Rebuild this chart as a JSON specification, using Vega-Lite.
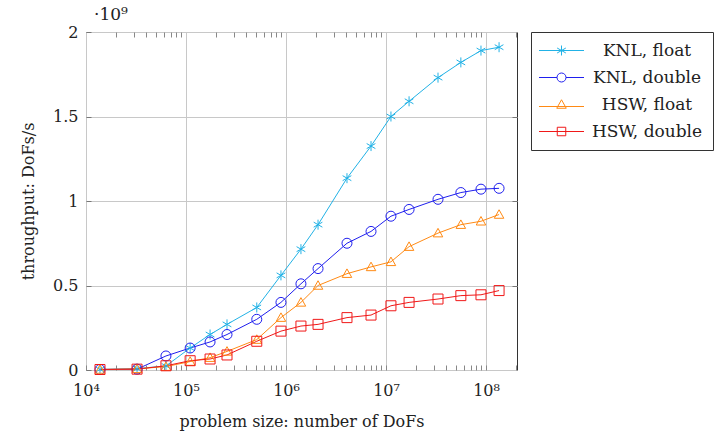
{
  "$schema": "https://vega.github.io/schema/vega-lite/v6.json",
  "autosize": "none",
  "width": 431,
  "height": 338,
  "padding": {"left": 86, "top": 32, "right": 198, "bottom": 67},
  "background": "white",
  "config": {
    "font": "DejaVu Serif",
    "view": {"stroke": "#333333", "strokeWidth": 1},
    "axis": {"labelFont": "DejaVu Serif", "titleFont": "DejaVu Serif", "labelColor": "#222", "titleColor": "#222", "titleFontWeight": "normal", "domain": false}
  },
  "title": {"text": "·10⁹", "anchor": "start", "frame": "group", "fontSize": 17, "fontWeight": "normal", "font": "DejaVu Serif", "color": "#222", "offset": 0, "dx": 8},
  "data": {"values": [
    {"size": 13800, "throughput": 0.003, "series": "KNL, float"},
    {"size": 32400, "throughput": 0.008, "series": "KNL, float"},
    {"size": 63000, "throughput": 0.024, "series": "KNL, float"},
    {"size": 110000, "throughput": 0.13, "series": "KNL, float"},
    {"size": 174000, "throughput": 0.21, "series": "KNL, float"},
    {"size": 257000, "throughput": 0.27, "series": "KNL, float"},
    {"size": 510000, "throughput": 0.37, "series": "KNL, float"},
    {"size": 890000, "throughput": 0.56, "series": "KNL, float"},
    {"size": 1410000, "throughput": 0.715, "series": "KNL, float"},
    {"size": 2090000, "throughput": 0.86, "series": "KNL, float"},
    {"size": 4070000, "throughput": 1.135, "series": "KNL, float"},
    {"size": 7080000, "throughput": 1.325, "series": "KNL, float"},
    {"size": 11200000, "throughput": 1.5, "series": "KNL, float"},
    {"size": 17000000, "throughput": 1.59, "series": "KNL, float"},
    {"size": 33100000, "throughput": 1.73, "series": "KNL, float"},
    {"size": 56000000, "throughput": 1.82, "series": "KNL, float"},
    {"size": 89000000, "throughput": 1.89, "series": "KNL, float"},
    {"size": 135000000, "throughput": 1.91, "series": "KNL, float"},
    {"size": 13800, "throughput": 0.003, "series": "KNL, double"},
    {"size": 32400, "throughput": 0.005, "series": "KNL, double"},
    {"size": 63000, "throughput": 0.083, "series": "KNL, double"},
    {"size": 110000, "throughput": 0.13, "series": "KNL, double"},
    {"size": 174000, "throughput": 0.166, "series": "KNL, double"},
    {"size": 257000, "throughput": 0.21, "series": "KNL, double"},
    {"size": 510000, "throughput": 0.3, "series": "KNL, double"},
    {"size": 890000, "throughput": 0.4, "series": "KNL, double"},
    {"size": 1410000, "throughput": 0.51, "series": "KNL, double"},
    {"size": 2090000, "throughput": 0.6, "series": "KNL, double"},
    {"size": 4070000, "throughput": 0.75, "series": "KNL, double"},
    {"size": 7080000, "throughput": 0.82, "series": "KNL, double"},
    {"size": 11200000, "throughput": 0.91, "series": "KNL, double"},
    {"size": 17000000, "throughput": 0.95, "series": "KNL, double"},
    {"size": 33100000, "throughput": 1.01, "series": "KNL, double"},
    {"size": 56000000, "throughput": 1.05, "series": "KNL, double"},
    {"size": 89000000, "throughput": 1.07, "series": "KNL, double"},
    {"size": 135000000, "throughput": 1.075, "series": "KNL, double"},
    {"size": 13800, "throughput": 0.003, "series": "HSW, float"},
    {"size": 32400, "throughput": 0.007, "series": "HSW, float"},
    {"size": 63000, "throughput": 0.02, "series": "HSW, float"},
    {"size": 110000, "throughput": 0.05, "series": "HSW, float"},
    {"size": 174000, "throughput": 0.073, "series": "HSW, float"},
    {"size": 257000, "throughput": 0.11, "series": "HSW, float"},
    {"size": 510000, "throughput": 0.18, "series": "HSW, float"},
    {"size": 890000, "throughput": 0.31, "series": "HSW, float"},
    {"size": 1410000, "throughput": 0.4, "series": "HSW, float"},
    {"size": 2090000, "throughput": 0.5, "series": "HSW, float"},
    {"size": 4070000, "throughput": 0.57, "series": "HSW, float"},
    {"size": 7080000, "throughput": 0.61, "series": "HSW, float"},
    {"size": 11200000, "throughput": 0.64, "series": "HSW, float"},
    {"size": 17000000, "throughput": 0.73, "series": "HSW, float"},
    {"size": 33100000, "throughput": 0.81, "series": "HSW, float"},
    {"size": 56000000, "throughput": 0.86, "series": "HSW, float"},
    {"size": 89000000, "throughput": 0.88, "series": "HSW, float"},
    {"size": 135000000, "throughput": 0.92, "series": "HSW, float"},
    {"size": 13800, "throughput": 0.003, "series": "HSW, double"},
    {"size": 32400, "throughput": 0.005, "series": "HSW, double"},
    {"size": 63000, "throughput": 0.025, "series": "HSW, double"},
    {"size": 110000, "throughput": 0.055, "series": "HSW, double"},
    {"size": 174000, "throughput": 0.065, "series": "HSW, double"},
    {"size": 257000, "throughput": 0.089, "series": "HSW, double"},
    {"size": 510000, "throughput": 0.17, "series": "HSW, double"},
    {"size": 890000, "throughput": 0.23, "series": "HSW, double"},
    {"size": 1410000, "throughput": 0.26, "series": "HSW, double"},
    {"size": 2090000, "throughput": 0.27, "series": "HSW, double"},
    {"size": 4070000, "throughput": 0.31, "series": "HSW, double"},
    {"size": 7080000, "throughput": 0.325, "series": "HSW, double"},
    {"size": 11200000, "throughput": 0.38, "series": "HSW, double"},
    {"size": 17000000, "throughput": 0.4, "series": "HSW, double"},
    {"size": 33100000, "throughput": 0.42, "series": "HSW, double"},
    {"size": 56000000, "throughput": 0.44, "series": "HSW, double"},
    {"size": 89000000, "throughput": 0.445, "series": "HSW, double"},
    {"size": 135000000, "throughput": 0.47, "series": "HSW, double"}
  ]},
  "resolve": {"axis": {"x": "independent", "y": "independent"}, "scale": {"color": "independent", "shape": "independent"}},
  "layer": [
    {
      "mark": {"type": "line", "strokeWidth": 1, "clip": true},
      "encoding": {
        "x": {"field": "size", "type": "quantitative",
          "scale": {"type": "log", "domain": [10000, 204000000], "nice": false},
          "axis": {"orient": "bottom", "title": "problem size: number of DoFs", "titleFontSize": 16, "titlePadding": 15, "labelFontSize": 16, "labelPadding": 17,
            "values": [10000,20000,30000,40000,50000,60000,70000,80000,90000,100000,200000,300000,400000,500000,600000,700000,800000,900000,1000000,2000000,3000000,4000000,5000000,6000000,7000000,8000000,9000000,10000000,20000000,30000000,40000000,50000000,60000000,70000000,80000000,90000000,100000000,200000000],
            "labelExpr": "datum.value == 10000 ? '10⁴' : datum.value == 100000 ? '10⁵' : datum.value == 1000000 ? '10⁶' : datum.value == 10000000 ? '10⁷' : datum.value == 100000000 ? '10⁸' : ''",
            "grid": true, "gridColor": "#c8c8c8", "gridWidth": 1,
            "gridOpacity": {"condition": {"test": "indexof([10000,100000,1000000,10000000,100000000], datum.value) >= 0", "value": 1}, "value": 0},
            "ticks": true, "tickSize": -5, "tickColor": "#888888", "labelFlush": false, "labelOverlap": false}},
        "y": {"field": "throughput", "type": "quantitative",
          "scale": {"domain": [0, 2], "nice": false},
          "axis": {"orient": "left", "title": "throughput: DoFs/s", "titleFontSize": 16, "titlePadding": 16, "labelFontSize": 16, "labelPadding": 13,
            "values": [0, 0.5, 1, 1.5, 2], "labelExpr": "datum.value == 0 ? '0' : format(datum.value, '')",
            "grid": true, "gridColor": "#c8c8c8", "ticks": true, "tickSize": -5, "tickColor": "#777777"}},
        "color": {"field": "series", "type": "nominal", "legend": null,
          "scale": {"domain": ["KNL, float", "KNL, double", "HSW, float", "HSW, double"], "range": ["#22b2e6", "#1f1fee", "#ff8a14", "#f01818"]}}
      }
    },
    {
      "mark": {"type": "point", "filled": false, "size": 100, "strokeWidth": 1, "opacity": 1},
      "encoding": {
        "x": {"field": "size", "type": "quantitative",
          "axis": {"orient": "top", "title": null, "labels": false, "grid": false, "ticks": true, "tickSize": -5, "tickColor": "#888888",
            "values": [20000,30000,40000,50000,60000,70000,80000,90000,200000,300000,400000,500000,600000,700000,800000,900000,2000000,3000000,4000000,5000000,6000000,7000000,8000000,9000000,20000000,30000000,40000000,50000000,60000000,70000000,80000000,90000000,200000000]}},
        "y": {"field": "throughput", "type": "quantitative",
          "axis": {"orient": "right", "title": null, "labels": false, "grid": false, "ticks": true, "tickSize": -5, "tickColor": "#777777", "values": [0.5, 1, 1.5]}},
        "color": {"field": "series", "type": "nominal", "legend": null,
          "scale": {"domain": ["KNL, float", "KNL, double", "HSW, float", "HSW, double"], "range": ["#22b2e6", "#1f1fee", "#ff8a14", "#f01818"]}},
        "shape": {"field": "series", "type": "nominal", "legend": null,
          "scale": {"domain": ["KNL, float", "KNL, double", "HSW, float", "HSW, double"],
            "range": ["M0,-1V1M-0.87,-0.5L0.87,0.5M-0.87,0.5L0.87,-0.5", "circle", "M0,-0.95L0.95,0.75H-0.95Z", "square"]}}
      }
    },
    {
      "mark": {"type": "point", "filled": false, "size": 100, "strokeWidth": 1, "opacity": 0},
      "encoding": {
        "x": {"field": "size", "type": "quantitative", "axis": null},
        "y": {"field": "throughput", "type": "quantitative", "axis": null},
        "color": {"field": "series", "type": "nominal",
          "scale": {"domain": ["KNL, float", "KNL, double", "HSW, float", "HSW, double"], "range": ["#22b2e6", "#1f1fee", "#ff8a14", "#f01818"]},
          "legend": {"title": null, "orient": "right", "offset": 13, "strokeColor": "#333333", "padding": 10, "labelFontSize": 17, "labelFont": "DejaVu Serif", "labelColor": "#222",
            "symbolSize": 100, "symbolStrokeWidth": 1, "symbolOpacity": 1, "symbolOffset": 12, "labelOffset": 77, "labelAlign": "center", "rowPadding": 9}},
        "shape": {"field": "series", "type": "nominal",
          "scale": {"domain": ["KNL, float", "KNL, double", "HSW, float", "HSW, double"],
            "range": ["M-4.5,0H4.5M0,-1V1M-0.87,-0.5L0.87,0.5M-0.87,0.5L0.87,-0.5", "M-4.5,0H-0.9M0.9,0H4.5M0.9,0A0.9,0.9,0,1,1,-0.9,0A0.9,0.9,0,1,1,0.9,0", "M-4.5,0.4H4.5M0,-0.95L0.95,0.75H-0.95Z", "M-4.5,0H4.5M-0.85,-0.85H0.85V0.85H-0.85Z"]},
          "legend": {"title": null, "orient": "right", "offset": 13, "strokeColor": "#333333", "padding": 10, "labelFontSize": 17, "labelFont": "DejaVu Serif", "labelColor": "#222",
            "symbolSize": 100, "symbolStrokeWidth": 1, "symbolOpacity": 1, "symbolOffset": 12, "labelOffset": 77, "labelAlign": "center", "rowPadding": 9}}
      }
    }
  ]
}
